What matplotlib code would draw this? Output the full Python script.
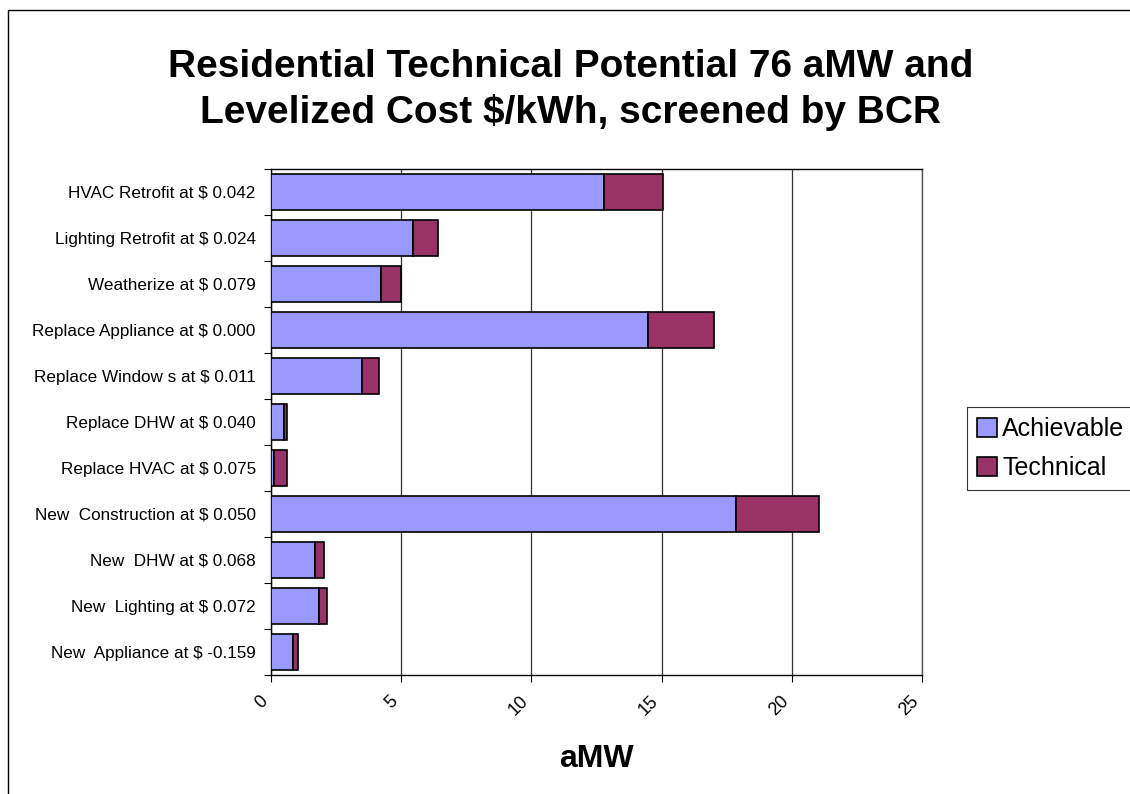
import matplotlib
matplotlib.use("Agg")
import matplotlib.pyplot as plt
from matplotlib.patches import Rectangle
import numpy as np

plt.rcParams["font.family"] = ["Liberation Sans", "DejaVu Sans"]

measures = [
    "HVAC Retrofit at $ 0.042",
    "Lighting Retrofit at $ 0.024",
    "Weatherize at $ 0.079",
    "Replace Appliance at $ 0.000",
    "Replace Window s at $ 0.011",
    "Replace DHW at $ 0.040",
    "Replace HVAC at $ 0.075",
    "New  Construction at $ 0.050",
    "New  DHW at $ 0.068",
    "New  Lighting at $ 0.072",
    "New  Appliance at $ -0.159",
]
achievable = [12.8, 5.47, 4.21, 14.49, 3.48, 0.50, 0.11, 17.87, 1.70, 1.85, 0.83]
technical = [2.26, 0.95, 0.77, 2.52, 0.65, 0.13, 0.52, 3.18, 0.33, 0.31, 0.19]
x_ticks = [0, 5, 10, 15, 20, 25]

ach_color = "#9999FF"
tech_color = "#993366"

fig = plt.figure(figsize=(11.3, 7.94), dpi=100)
ax = fig.add_axes([0.2398, 0.1499, 0.8159 - 0.2398, 0.7872 - 0.1499])

y = np.arange(len(measures))
ax.barh(y, achievable, height=0.77, color=ach_color, edgecolor="black",
        linewidth=1.2, label="Achievable", zorder=3)
ax.barh(y, technical, left=achievable, height=0.77, color=tech_color,
        edgecolor="black", linewidth=1.2, label="Technical", zorder=3)

ax.set_xlim(0, 25)
ax.set_ylim(len(measures) - 0.5, -0.5)
ax.set_xticks(x_ticks)
ax.set_xticklabels([str(t) for t in x_ticks], rotation=45, fontsize=13,
                   ha="right", va="top")
ax.tick_params(axis="x", length=5, pad=8, width=0.8)
ax.set_yticks(y)
ax.set_yticklabels(measures, fontsize=12.3)
ax.tick_params(axis="y", which="major", length=0, pad=11)
ax.set_yticks(np.arange(len(measures) + 1) - 0.5, minor=True)
ax.tick_params(axis="y", which="minor", length=5, width=0.8)
ax.grid(axis="x", color="#333333", linewidth=0.9, zorder=0)
for s in ax.spines.values():
    s.set_linewidth(1.0)
ax.spines["right"].set_color("#555555")

ax.set_xlabel("aMW", fontsize=23, fontweight="bold", labelpad=18)

fig.text(0.505, 0.887, "Residential Technical Potential 76 aMW and\n"
         "Levelized Cost $/kWh, screened by BCR",
         ha="center", va="center", fontsize=28, fontweight="bold",
         linespacing=1.3)

leg = fig.legend(loc="upper left", bbox_to_anchor=(0.856, 0.487),
                 fontsize=18, frameon=True, fancybox=False, edgecolor="black",
                 handlelength=0.8, handleheight=0.8, handletextpad=0.2,
                 borderpad=0.4, labelspacing=0.6, borderaxespad=0)
leg.get_frame().set_linewidth(0.8)

fig.patches.append(Rectangle((8 / 1130, -0.05), 1.2, 1 - 10 / 794 + 0.05,
                             transform=fig.transFigure, fill=False,
                             edgecolor="black", linewidth=1.0))

fig.savefig("out.png", dpi=100)
